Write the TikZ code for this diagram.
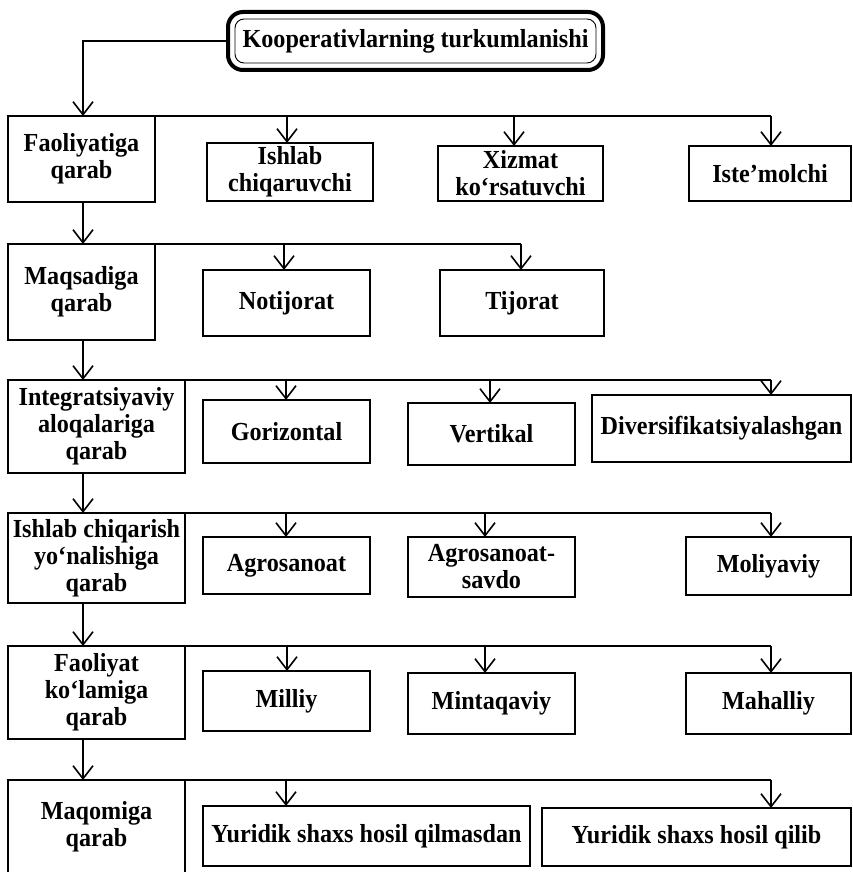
\documentclass[tikz,border=0pt]{standalone}
\usepackage{fontspec}
\setmainfont{Liberation Serif}[FakeStretch = 0.93]
\usetikzlibrary{arrows.meta}

\begin{document}
\begin{tikzpicture}[x = 1pt, y = -1pt]
\tikzstyle{BoxStyle}=[shape = rectangle,
                      draw,
                      line width = 1.4pt,
                      inner sep = 0pt,
                      outer sep = 0pt,
                      align = center,
                      font = \bfseries\fontsize{26}{27}\selectfont]
\tikzstyle{TitleStyle}=[BoxStyle,
                        line width = 4pt,
                        rounded corners = 15pt]
\tikzstyle{LineStyle}=[line width = 1.4pt]
\tikzstyle{ArrowStyle}=[line width = 1.6pt,
                        -{Straight Barb[length = 13pt, width = 20pt]}]
\useasboundingbox (0,0) rectangle (853,872);
\node[TitleStyle, minimum width = 375, minimum height = 58] (t) at (415.5,41) {Kooperativlarning turkumlanishi};
\draw[line width = 0.9pt, rounded corners = 9pt] ([xshift = 7pt, yshift = -7pt]t.north west) rectangle ([xshift = -7pt, yshift = 7pt]t.south east);
\node[BoxStyle, minimum width = 147, minimum height = 86] (f1) at (81.5,159) {Faoliyatiga\\qarab};
\node[BoxStyle, minimum width = 166, minimum height = 58] (c11) at (290,172) {Ishlab\\chiqaruvchi};
\node[BoxStyle, minimum width = 165, minimum height = 55] (c12) at (520.5,173.5) {Xizmat\\ko‘rsatuvchi};
\node[BoxStyle, minimum width = 162, minimum height = 55] (c13) at (770,173.5) {Iste’molchi};
\node[BoxStyle, minimum width = 147, minimum height = 96] (f2) at (81.5,292) {Maqsadiga\\qarab};
\node[BoxStyle, minimum width = 167, minimum height = 66] (c21) at (286.5,303) {Notijorat};
\node[BoxStyle, minimum width = 164, minimum height = 66] (c22) at (522,303) {Tijorat};
\node[BoxStyle, minimum width = 177, minimum height = 93] (f3) at (96.5,426.5) {Integratsiyaviy\\aloqalariga\\qarab};
\node[BoxStyle, minimum width = 167, minimum height = 63] (c31) at (286.5,431.5) {Gorizontal};
\node[BoxStyle, minimum width = 167, minimum height = 62] (c32) at (491.5,434) {Vertikal};
\node[BoxStyle, minimum width = 259, minimum height = 67] (c33) at (721.5,428.5) {Diversifikatsiyalashgan};
\node[BoxStyle, minimum width = 177, minimum height = 90] (f4) at (96.5,558) {Ishlab chiqarish\\yo‘nalishiga\\qarab};
\node[BoxStyle, minimum width = 167, minimum height = 57] (c41) at (286.5,565.5) {Agrosanoat};
\node[BoxStyle, minimum width = 167, minimum height = 60] (c42) at (491.5,567) {Agrosanoat-\\savdo};
\node[BoxStyle, minimum width = 165, minimum height = 58] (c43) at (768.5,566) {Moliyaviy};
\node[BoxStyle, minimum width = 177, minimum height = 93] (f5) at (96.5,692.5) {Faoliyat\\ko‘lamiga\\qarab};
\node[BoxStyle, minimum width = 167, minimum height = 60] (c51) at (286.5,701) {Milliy};
\node[BoxStyle, minimum width = 167, minimum height = 61] (c52) at (491.5,703.5) {Mintaqaviy};
\node[BoxStyle, minimum width = 165, minimum height = 61] (c53) at (768.5,703.5) {Mahalliy};
\node[BoxStyle, minimum width = 177, minimum height = 94] (f6) at (96.5,827) {Maqomiga\\qarab};
\node[BoxStyle, minimum width = 327, minimum height = 60] (c61) at (366.5,836) {Yuridik shaxs hosil qilmasdan};
\node[BoxStyle, minimum width = 309, minimum height = 58] (c62) at (696.5,837) {Yuridik shaxs hosil qilib};
\coordinate (s) at (83,0);
\coordinate (k11) at (287,116);
\coordinate (k12) at (514,116);
\coordinate (k13) at (771,116);
\coordinate (k21) at (284,244);
\coordinate (k22) at (521,244);
\coordinate (k31) at (286,380);
\coordinate (k32) at (490,380);
\coordinate (k33) at (771,380);
\coordinate (k41) at (286,513);
\coordinate (k42) at (485,513);
\coordinate (k43) at (771,513);
\coordinate (k51) at (287,646);
\coordinate (k52) at (485,646);
\coordinate (k53) at (771,646);
\coordinate (k61) at (286,780);
\coordinate (k62) at (771,780);
\draw[ArrowStyle] (t.west) -| (s |- f1.north);
\draw[ArrowStyle] (s |- f1.south) -- (s |- f2.north);
\draw[ArrowStyle] (s |- f2.south) -- (s |- f3.north);
\draw[ArrowStyle] (s |- f3.south) -- (s |- f4.north);
\draw[ArrowStyle] (s |- f4.south) -- (s |- f5.north);
\draw[ArrowStyle] (s |- f5.south) -- (s |- f6.north);
\draw[LineStyle] (f1.north east) -- (k13);
\draw[LineStyle] (f2.north east) -- (k22);
\draw[LineStyle] (f3.north east) -- (k33);
\draw[LineStyle] (f4.north east) -- (k43);
\draw[LineStyle] (f5.north east) -- (k53);
\draw[LineStyle] (f6.north east) -- (k62);
\draw[ArrowStyle] (k11) -- (k11 |- c11.north);
\draw[ArrowStyle] (k12) -- (k12 |- c12.north);
\draw[ArrowStyle] (k13) -- (k13 |- c13.north);
\draw[ArrowStyle] (k21) -- (k21 |- c21.north);
\draw[ArrowStyle] (k22) -- (k22 |- c22.north);
\draw[ArrowStyle] (k31) -- (k31 |- c31.north);
\draw[ArrowStyle] (k32) -- (k32 |- c32.north);
\draw[ArrowStyle] (k33) -- (k33 |- c33.north);
\draw[ArrowStyle] (k41) -- (k41 |- c41.north);
\draw[ArrowStyle] (k42) -- (k42 |- c42.north);
\draw[ArrowStyle] (k43) -- (k43 |- c43.north);
\draw[ArrowStyle] (k51) -- (k51 |- c51.north);
\draw[ArrowStyle] (k52) -- (k52 |- c52.north);
\draw[ArrowStyle] (k53) -- (k53 |- c53.north);
\draw[ArrowStyle] (k61) -- (k61 |- c61.north);
\draw[ArrowStyle] (k62) -- (k62 |- c62.north);
\end{tikzpicture}
\end{document}
